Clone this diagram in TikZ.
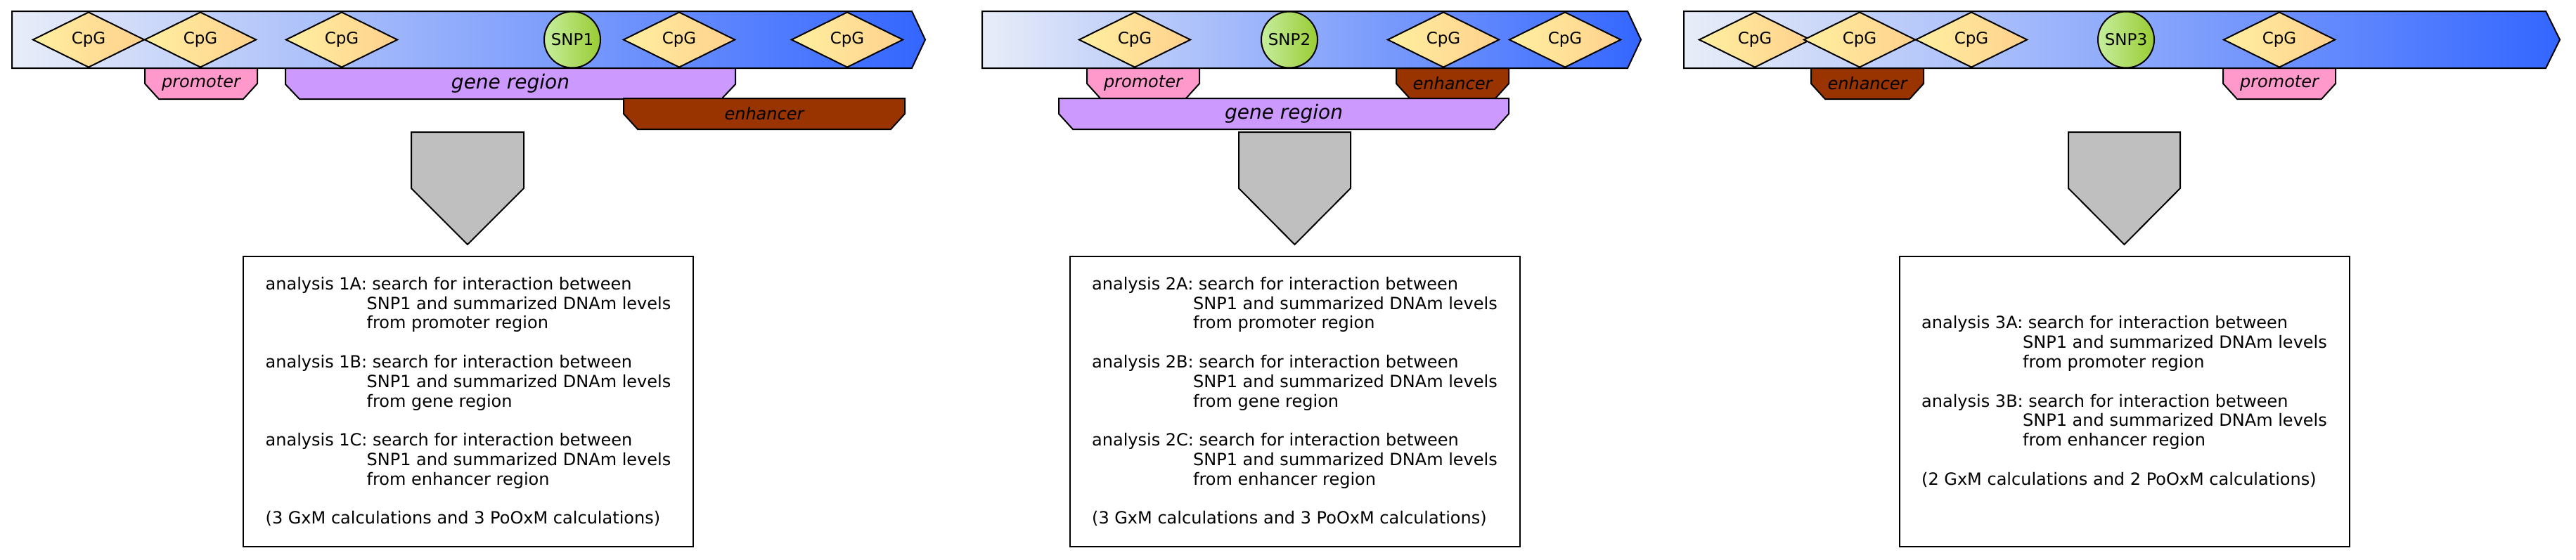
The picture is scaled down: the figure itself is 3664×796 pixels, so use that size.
\documentclass[tikz,border=0pt]{standalone}
\usepackage{fontspec}
\setmainfont{DejaVu Sans}
\usetikzlibrary{shapes.geometric, positioning}
\definecolor{barlight}{HTML}{E8EDF8}
\definecolor{bardark}{HTML}{3366FF}
\definecolor{cpglight}{HTML}{FFF0A0}
\definecolor{cpgdark}{HTML}{FFD08C}
\definecolor{snplight}{HTML}{C6EE9E}
\definecolor{snpdark}{HTML}{99CC33}
\definecolor{promcol}{HTML}{FF99CC}
\definecolor{genecol}{HTML}{CC99FF}
\definecolor{enhcol}{HTML}{993300}
\definecolor{arrowgray}{HTML}{BFBFBF}

\begin{document}
\begin{tikzpicture}[
  x=1pt, y=-1pt,
  every node/.style={font=\fontsize{24}{27.8}\selectfont},
  chrom/.style={draw, line width=2pt, left color=barlight, right color=bardark},
  cpg/.style={draw, diamond, line width=2pt, left color=cpglight, right color=cpgdark, inner sep=0pt, minimum width=159pt, minimum height=79pt, font=\fontsize{23}{27}\selectfont},
  snp/.style={draw, circle, line width=2pt, left color=snplight, right color=snpdark, inner sep=0pt, minimum size=80pt, font=\fontsize{23}{27}\selectfont},
  region/.style={draw, line width=2pt},
  promoter/.style={region, fill=promcol},
  enhancer/.style={region, fill=enhcol},
  generegion/.style={region, fill=genecol},
  regionlabel/.style={inner sep=0pt, font=\fontsize{24}{27.8}\selectfont\itshape},
  genelabel/.style={inner sep=0pt, font=\fontsize{28}{32}\selectfont\itshape},
  blockarrow/.style={draw, line width=2pt, fill=arrowgray},
  anbox/.style={draw, line width=2pt, minimum width=640pt, minimum height=413pt, align=left}
]
\useasboundingbox (0,0) rectangle (3664,796);

% panel 1
\draw[chrom] (17,16) -- (1297,16) -- (1316,56.5) -- (1297,97) -- (17,97) -- cycle;
\node[cpg] (cpg11) at (126,56.5) {CpG};
\node[cpg] (cpg12) at (285,56.5) {CpG};
\node[cpg] (cpg13) at (486,56.5) {CpG};
\node[snp] (snp1) at (814,56.5) {SNP1};
\node[cpg] (cpg14) at (966,56.5) {CpG};
\node[cpg] (cpg15) at (1205,56.5) {CpG};
\draw[promoter] (206,97) -- (366,97) -- (366,119) -- (346,141) -- (226,141) -- (206,119) -- cycle;
\node[regionlabel] (prom1) at (286,119) {promoter};
\draw[generegion] (406,97) -- (1046,97) -- (1046,120) -- (1026,141) -- (426,141) -- (406,120) -- cycle;
\node[genelabel] (gene1) at (726,119) {gene region};
\draw[enhancer] (887,140) -- (1287,140) -- (1287,162) -- (1267,184) -- (907,184) -- (887,162) -- cycle;
\node[regionlabel] (enh1) at (1087,162) {enhancer};
\draw[blockarrow] (585,188) -- (745,188) -- (745,268) -- (665,348) -- (585,268) -- cycle;
\node[anbox] (ana1) at (666,571.5) {%
analysis 1A: search for interaction between\\
\hspace*{6em}SNP1 and summarized DNAm levels\\
\hspace*{6em}from promoter region\\[27.8pt]
analysis 1B: search for interaction between\\
\hspace*{6em}SNP1 and summarized DNAm levels\\
\hspace*{6em}from gene region\\[27.8pt]
analysis 1C: search for interaction between\\
\hspace*{6em}SNP1 and summarized DNAm levels\\
\hspace*{6em}from enhancer region\\[27.8pt]
(3 GxM calculations and 3 PoOxM calculations)};

% panel 2
\draw[chrom] (1397,16) -- (2315,16) -- (2334,56.5) -- (2315,97) -- (1397,97) -- cycle;
\node[cpg] (cpg21) at (1614,56.5) {CpG};
\node[snp] (snp2) at (1834,56.5) {SNP2};
\node[cpg] (cpg22) at (2053,56.5) {CpG};
\node[cpg] (cpg23) at (2226,56.5) {CpG};
\draw[promoter] (1546,97) -- (1706,97) -- (1706,119) -- (1686,141) -- (1566,141) -- (1546,119) -- cycle;
\node[regionlabel] (prom2) at (1626,119) {promoter};
\draw[enhancer] (1986,97) -- (2146,97) -- (2146,119) -- (2126,141) -- (2006,141) -- (1986,119) -- cycle;
\node[regionlabel] (enh2) at (2066,119) {enhancer};
\draw[generegion] (1506,140) -- (2146,140) -- (2146,162) -- (2126,184) -- (1526,184) -- (1506,162) -- cycle;
\node[genelabel] (gene2) at (1826,162) {gene region};
\draw[blockarrow] (1762,188) -- (1921,188) -- (1921,268) -- (1841.5,348) -- (1762,268) -- cycle;
\node[anbox] (ana2) at (1841.5,571.5) {%
analysis 2A: search for interaction between\\
\hspace*{6em}SNP1 and summarized DNAm levels\\
\hspace*{6em}from promoter region\\[27.8pt]
analysis 2B: search for interaction between\\
\hspace*{6em}SNP1 and summarized DNAm levels\\
\hspace*{6em}from gene region\\[27.8pt]
analysis 2C: search for interaction between\\
\hspace*{6em}SNP1 and summarized DNAm levels\\
\hspace*{6em}from enhancer region\\[27.8pt]
(3 GxM calculations and 3 PoOxM calculations)};

% panel 3
\draw[chrom] (2395,16) -- (3621,16) -- (3641,56.5) -- (3621,97) -- (2395,97) -- cycle;
\node[cpg] (cpg31) at (2496,56.5) {CpG};
\node[cpg] (cpg32) at (2645,56.5) {CpG};
\node[cpg] (cpg33) at (2804,56.5) {CpG};
\node[snp] (snp3) at (3024,56.5) {SNP3};
\node[cpg] (cpg34) at (3242,56.5) {CpG};
\draw[enhancer] (2576,97) -- (2736,97) -- (2736,119) -- (2716,141) -- (2596,141) -- (2576,119) -- cycle;
\node[regionlabel] (enh3) at (2656,119) {enhancer};
\draw[promoter] (3162,97) -- (3322,97) -- (3322,119) -- (3302,141) -- (3182,141) -- (3162,119) -- cycle;
\node[regionlabel] (prom3) at (3242,119) {promoter};
\draw[blockarrow] (2942,188) -- (3101,188) -- (3101,268) -- (3021.5,348) -- (2942,268) -- cycle;
\node[anbox] (ana3) at (3021.5,571.5) {%
analysis 3A: search for interaction between\\
\hspace*{6em}SNP1 and summarized DNAm levels\\
\hspace*{6em}from promoter region\\[27.8pt]
analysis 3B: search for interaction between\\
\hspace*{6em}SNP1 and summarized DNAm levels\\
\hspace*{6em}from enhancer region\\[27.8pt]
(2 GxM calculations and 2 PoOxM calculations)};
\end{tikzpicture}
\end{document}
